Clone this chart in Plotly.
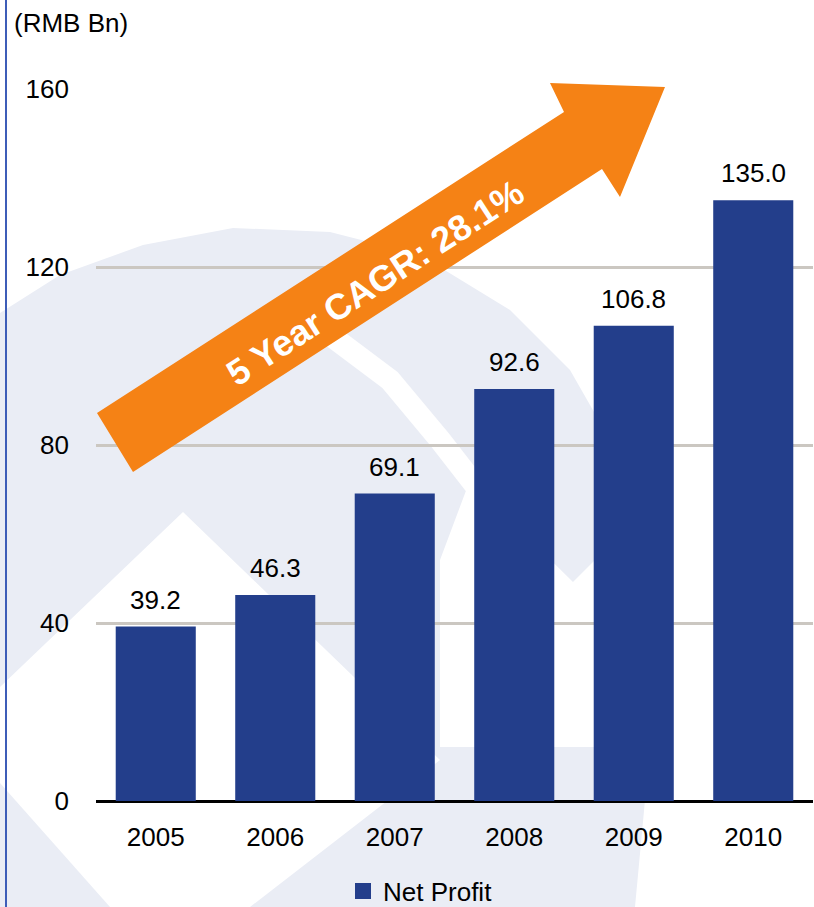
import plotly.graph_objects as go

# Net profit by year (RMB Bn)
years = ["2005", "2006", "2007", "2008", "2009", "2010"]
net_profit = [39.2, 46.3, 69.1, 92.6, 106.8, 135.0]
y_ticks = [0, 40, 80, 120, 160]
series_name = "Net Profit"
unit_label = "(RMB Bn)"
cagr_label = "5 Year CAGR: 28.1%"

W, H = 814, 907
ML, MR, MT, MB = 96, 1, 89, 106
PW, PH = W - ML - MR, H - MT - MB

BAR = "#233E8B"
GRID = "#CBC7C1"
WM = "#EAEDF5"
ORANGE = "#F58215"
FONT = "Arial, Liberation Sans, sans-serif"
FS = 26


def px(x):
    return (x - ML) / PW


def py(y):
    return (H - MB - y) / PH


def path(points, close=True):
    d = "M " + " L ".join(f"{px(x):.5f},{py(y):.5f}" for x, y in points)
    return d + (" Z" if close else "")


def bg_shape(points, color):
    return dict(type="path", xref="paper", yref="paper", layer="below",
                path=path(points), fillcolor=color, line=dict(width=0))


fig = go.Figure()
fig.add_trace(go.Bar(
    x=years, y=net_profit, name=series_name, showlegend=False,
    marker=dict(color=BAR, line=dict(width=0)),
))
# legend entry with a larger swatch
fig.add_trace(go.Scatter(
    x=[None], y=[None], mode="markers", name=series_name,
    marker=dict(symbol="square", size=16, color=BAR),
))

shapes = []
# faint emblem behind the plot
shapes.append(bg_shape([(0, 313), (60, 275), (143, 245), (233, 228), (330, 232), (420, 255),
                        (510, 310), (570, 370), (610, 440), (632, 520), (642, 600),
                        (646, 700), (645, 800), (635, 907), (0, 907)], WM))
shapes.append(bg_shape([(183, 512), (440, 760), (250, 907), (110, 907), (-46, 731)], "white"))
shapes.append(bg_shape([(470, 480), (573, 582), (640, 515), (640, 747), (440, 747), (440, 560)], "white"))
shapes.append(dict(type="path", xref="paper", yref="paper", layer="below",
                   path=path([(270, 318), (330, 335), (390, 380), (440, 440), (475, 485)],
                             close=False),
                   fillcolor="rgba(0,0,0,0)", line=dict(color="white", width=22)))
# left border rule
shapes.append(dict(type="line", xref="paper", yref="paper",
                   x0=px(6), x1=px(6), y0=py(0), y1=py(H),
                   line=dict(color="#3D5DB8", width=2)))
# growth arrow
shapes.append(dict(type="path", xref="paper", yref="paper", layer="above",
                   path=path([(97, 413), (564, 112), (550, 83), (665, 87),
                              (620, 197), (602, 169), (133, 472)]),
                   fillcolor=ORANGE, line=dict(width=0)))

annotations = []
# value labels above each bar (category axis positions are indices)
for i, v in enumerate(net_profit):
    annotations.append(dict(x=i, y=v, xref="x", yref="y", text=f"{v:.1f}",
                            showarrow=False, yanchor="bottom", yshift=10,
                            font=dict(family=FONT, size=FS, color="black")))
annotations.append(dict(x=px(12), y=py(23), xref="paper", yref="paper",
                        text=unit_label, showarrow=False, xanchor="left", yanchor="middle",
                        font=dict(family=FONT, size=FS, color="black")))
annotations.append(dict(x=px(375), y=py(282), xref="paper", yref="paper",
                        text=f"<b>{cagr_label}</b>", showarrow=False, textangle=-33,
                        xanchor="center", yanchor="middle",
                        font=dict(family=FONT, size=36, color="white")))

fig.update_layout(
    width=W, height=H,
    margin=dict(l=ML, r=MR, t=MT, b=MB, autoexpand=False),
    paper_bgcolor="white", plot_bgcolor="rgba(0,0,0,0)",
    bargap=0.33,
    font=dict(family=FONT, size=FS, color="black"),
    shapes=shapes, annotations=annotations,
    showlegend=True,
    legend=dict(orientation="h", xref="container", yref="container", itemsizing="trace",
                x=343 / W, xanchor="left", y=(H - 891) / H, yanchor="middle",
                font=dict(family=FONT, size=FS, color="black"), bgcolor="rgba(0,0,0,0)"),
    xaxis=dict(type="category", showgrid=False, showline=False, ticks="",
               ticklabelstandoff=18, automargin=False,
               tickfont=dict(family=FONT, size=FS)),
    yaxis=dict(range=[0, 160], tickvals=y_ticks, showgrid=True, gridcolor=GRID, gridwidth=3,
               zeroline=True, zerolinecolor="black", zerolinewidth=3,
               showline=False, ticks="", ticklabelstandoff=26, automargin=False,
               tickfont=dict(family=FONT, size=FS)),
)

fig.write_html("out.html")
